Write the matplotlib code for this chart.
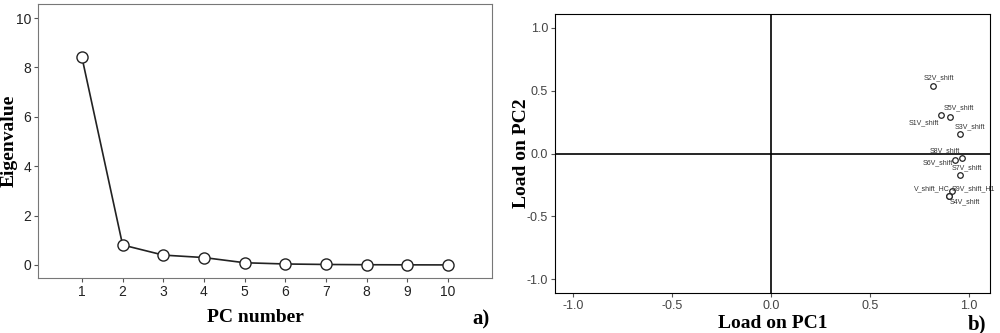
import matplotlib.pyplot as plt

# scree plot data
pc_number = [1, 2, 3, 4, 5, 6, 7, 8, 9, 10]
eigenvalues = [8.41, 0.81, 0.40, 0.30, 0.09, 0.04, 0.02, 0.01, 0.005, 0.002]

# loading plot data
var_names = ["S2V_shift", "S1V_shift", "S5V_shift", "S3V_shift", "S8V_shift",
             "S6V_shift", "S7V_shift", "V_shift_HC", "S9V_shift_H1", "S4V_shift"]
load_pc1 = [0.818, 0.861, 0.907, 0.958, 0.968, 0.932, 0.958, 0.915, 0.900, 0.900]
load_pc2 = [0.535, 0.304, 0.290, 0.152, -0.039, -0.052, -0.174, -0.296, -0.336, -0.336]

# label offsets (pixels) and alignment for each point label
label_dx = [6, -2, 8, 9, -18, -2, 6, -2, 3, 16]
label_dy = [8, -7, 9, 8, 8, -3, 8, 2, 7, -6]
label_ha = ["center", "right", "center", "center", "center", "right", "center", "right", "left", "center"]

plt.rcParams["font.family"] = ["Liberation Sans", "DejaVu Sans"]
plt.rcParams["axes.unicode_minus"] = False

fig = plt.figure(figsize=(10, 3.33), dpi=100)

# ---- a) scree plot
ax1 = fig.add_axes([0.038, 0.165, 0.454, 0.823])
ax1.plot(pc_number, eigenvalues, color="#222222", lw=1.2, marker="o", ms=8,
         mfc="white", mec="#222222", mew=1.0)
ax1.set_xlim(-0.08, 11.08)
ax1.set_ylim(-0.53, 10.57)
ax1.set_xticks(pc_number)
ax1.set_yticks([0, 2, 4, 6, 8, 10])
ax1.tick_params(labelsize=10, length=3, pad=2, color="#555555", labelcolor="#222222")
for s in ax1.spines.values():
    s.set_color("#777777")
ax1.set_xlabel("PC number", family="Liberation Serif", fontweight="bold", fontsize=14)
ax1.set_ylabel("Eigenvalue", family="Liberation Serif", fontweight="bold", fontsize=14)
ax1.xaxis.set_label_coords(0.478, -0.112)
ax1.yaxis.set_label_coords(-0.045, 0.5)
fig.text(0.472, 0.025, "a)", family="Liberation Serif", fontweight="bold", fontsize=15)

# ---- b) loading plot
ax2 = fig.add_axes([0.555, 0.12, 0.435, 0.838])
ax2.axhline(0, color="black", lw=1.2)
ax2.axvline(0, color="black", lw=1.2)
ax2.scatter(load_pc1, load_pc2, s=16, facecolors="white", edgecolors="#222222",
            linewidths=0.9, zorder=3)
for name, x, y, dx, dy, ha in zip(var_names, load_pc1, load_pc2, label_dx, label_dy, label_ha):
    ax2.annotate(name, (x, y), xytext=(dx, dy), textcoords="offset pixels",
                 ha=ha, va="center", fontsize=5,
                 family=["Liberation Sans Narrow", "Liberation Sans"], color="#333333")
ax2.set_xlim(-1.09, 1.107)
ax2.set_ylim(-1.11, 1.11)
ax2.set_xticks([-1.0, -0.5, 0.0, 0.5, 1.0])
ax2.set_yticks([-1.0, -0.5, 0.0, 0.5, 1.0])
ax2.tick_params(labelsize=9, length=3, pad=2, color="#555555", labelcolor="#444444")
ax2.set_xlabel("Load on PC1", family="Liberation Serif", fontweight="bold", fontsize=14)
ax2.set_ylabel("Load on PC2", family="Liberation Serif", fontweight="bold", fontsize=14)
ax2.xaxis.set_label_coords(0.5, -0.08)
ax2.yaxis.set_label_coords(-0.057, 0.5)
fig.text(0.968, 0.01, "b)", family="Liberation Serif", fontweight="bold", fontsize=15)

fig.savefig("out.png", dpi=100)
